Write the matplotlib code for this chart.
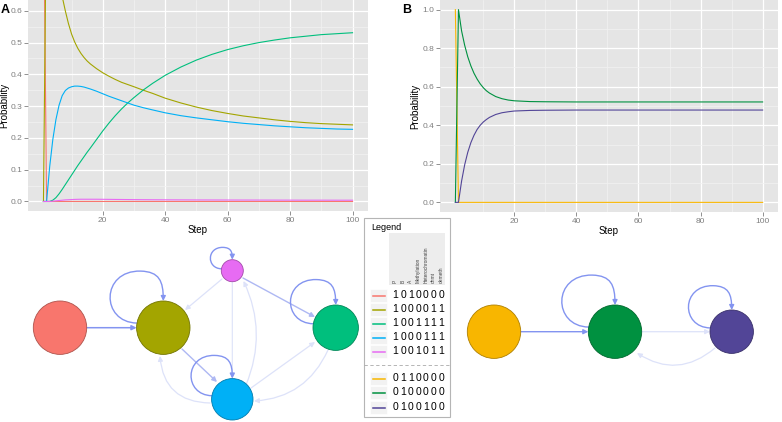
import numpy as np
import matplotlib
matplotlib.use('Agg')
import matplotlib.pyplot as plt
from matplotlib.patches import Circle, FancyArrowPatch, Rectangle
from matplotlib.path import Path
from matplotlib.lines import Line2D
import matplotlib.colors as mcolors

plt.rcParams['font.family'] = ['Liberation Sans', 'DejaVu Sans']

# ---------------- data ----------------
steps_a = [1, 2, 3, 4, 5, 6, 7, 8, 9, 10, 11, 12, 13, 14, 15, 16, 18, 20, 22, 24, 26, 28,
           30, 33, 36, 40, 45, 50, 55, 60, 65, 70, 75, 80, 85, 90, 95, 100]
a_1010000 = [1.0, 0, 0, 0, 0, 0, 0, 0, 0, 0, 0, 0, 0, 0, 0, 0, 0, 0, 0, 0, 0, 0,
             0, 0, 0, 0, 0, 0, 0, 0, 0, 0, 0, 0, 0, 0, 0, 0]
a_1000011 = [0.0, 1.0, 0.91, 0.83, 0.76, 0.70, 0.645, 0.60, 0.56, 0.527, 0.502, 0.482,
             0.466, 0.453, 0.442, 0.433, 0.418, 0.405, 0.394, 0.384, 0.375, 0.368,
             0.361, 0.35, 0.34, 0.325, 0.31, 0.297, 0.286, 0.277, 0.269, 0.263, 0.257,
             0.252, 0.248, 0.245, 0.243, 0.241]
a_1001111 = [0.0, 0.0, 0.0, 0.004, 0.012, 0.024, 0.038, 0.053, 0.068, 0.083, 0.098, 0.113,
             0.127, 0.141, 0.155, 0.168, 0.195, 0.222, 0.247, 0.27, 0.291, 0.31,
             0.327, 0.351, 0.372, 0.397, 0.423, 0.445, 0.463, 0.478, 0.49, 0.5, 0.508,
             0.515, 0.52, 0.525, 0.528, 0.531]
a_1000111 = [0.0, 0.0, 0.11, 0.195, 0.258, 0.303, 0.333, 0.349, 0.357, 0.361, 0.363, 0.363,
             0.362, 0.36, 0.357, 0.354, 0.347, 0.339, 0.331, 0.324, 0.317, 0.31,
             0.303, 0.295, 0.288, 0.279, 0.27, 0.263, 0.257, 0.251, 0.246, 0.242, 0.238,
             0.235, 0.232, 0.23, 0.228, 0.227]
a_1001011 = [0.0, 0.0, 0.0, 0.001, 0.002, 0.003, 0.004, 0.005, 0.0055, 0.006, 0.0065, 0.0068,
             0.007, 0.007, 0.007, 0.007, 0.007, 0.0068, 0.0066, 0.0064, 0.0062, 0.006,
             0.0058, 0.0056, 0.0054, 0.0052, 0.005, 0.0048, 0.0047, 0.0046, 0.0045, 0.0044,
             0.0043, 0.0042, 0.0041, 0.0041, 0.004, 0.004]

steps_b = [1, 2, 3, 4, 5, 6, 7, 8, 9, 10, 11, 12, 14, 16, 18, 20, 25, 30, 40, 50, 60, 70, 80, 90, 100]
b_0110000 = [1.0, 0, 0, 0, 0, 0, 0, 0, 0, 0, 0, 0, 0, 0, 0, 0, 0, 0, 0, 0, 0, 0, 0, 0, 0]
b_0100000 = [0.0, 1.0, 0.89, 0.815, 0.755, 0.708, 0.67, 0.64, 0.615, 0.595, 0.579, 0.567,
             0.549, 0.538, 0.531, 0.527, 0.523, 0.522, 0.521, 0.521, 0.521, 0.521, 0.521,
             0.521, 0.521]
b_0100100 = [0.0, 0.0, 0.11, 0.195, 0.26, 0.31, 0.348, 0.378, 0.4, 0.417, 0.43, 0.441,
             0.456, 0.465, 0.47, 0.474, 0.477, 0.478, 0.479, 0.479, 0.479, 0.479, 0.479,
             0.479, 0.479]

codes_a = ['1010000', '1000011', '1001111', '1000111', '1001011']
codes_b = ['0110000', '0100000', '0100100']
colors_a = ['#F8766D', '#A3A500', '#00BF7D', '#00B0F6', '#E76BF3']
colors_b = ['#F8B600', '#009140', '#524597']
legend_header = ['P', 'B', 'A', 'Methylation', 'Heterochromatin', 'dnmt', 'demeth']

x_major = [20, 40, 60, 80, 100]
x_minor = [10, 30, 50, 70, 90]
a_yticks = [0.0, 0.1, 0.2, 0.3, 0.4, 0.5, 0.6]
a_yminor = [0.05, 0.15, 0.25, 0.35, 0.45, 0.55]
b_yticks = [0.0, 0.2, 0.4, 0.6, 0.8, 1.0]
b_yminor = [0.1, 0.3, 0.5, 0.7, 0.9]

# ---------------- figure ----------------
W, H = 782, 422
fig = plt.figure(figsize=(W / 100, H / 100), dpi=100)


def style_ax(ax, ymaj, ymin, ylabelpad):
    ax.set_facecolor('#E5E5E5')
    for s in ax.spines.values():
        s.set_visible(False)
    ax.set_xticks(x_major)
    ax.set_xticks(x_minor, minor=True)
    ax.set_yticks(ymaj)
    ax.set_yticks(ymin, minor=True)
    ax.set_xticklabels([str(v) for v in x_major])
    ax.set_yticklabels(['%.1f' % v for v in ymaj])
    ax.grid(which='major', color='white', lw=0.9)
    ax.grid(which='minor', color='#F2F2F2', lw=0.5)
    ax.set_axisbelow(True)
    ax.tick_params(which='major', length=3, width=0.6, color='#7F7F7F',
                   labelcolor='#7F7F7F', labelsize=6, pad=1.0)
    ax.tick_params(which='minor', length=0)
    ax.set_xlim(-3.95, 104.95)
    ax.set_xlabel('Step', fontsize=7, labelpad=1)
    ax.set_ylabel('Probability', fontsize=7, labelpad=ylabelpad)


axA = fig.add_axes([28 / W, 1 - 211 / H, 340 / W, 211 / H])
for vals, c in zip([a_1010000, a_1000011, a_1001111, a_1000111, a_1001011], colors_a):
    axA.plot(steps_a, vals, color=c, lw=0.8)
style_ax(axA, a_yticks, a_yminor, 0.8)
axA.set_ylim(-0.03, 0.634)

axB = fig.add_axes([440 / W, 1 - 212 / H, 338 / W, 212 / H])
for vals, c in zip([b_0110000, b_0100000, b_0100100], colors_b):
    axB.plot(steps_b, vals, color=c, lw=0.8)
style_ax(axB, b_yticks, b_yminor, 2)
axB.set_ylim(-0.05, 1.05)

fig.text(1 / W, 1 - 10 / H, 'A', fontsize=9, fontweight='bold', ha='left', va='center')
fig.text(402 / W, 1 - 10 / H, 'B', fontsize=9, fontweight='bold', ha='left', va='center')

# ---------------- overlay in pixel coordinates ----------------
ov = fig.add_axes([0, 0, 1, 1], zorder=-1)
ov.set_xlim(0, W)
ov.set_ylim(H, 0)
ov.axis('off')

STRONG = '#8394F0'
MEDIUM = '#AEB8F3'
FAINT = '#DDE2F9'


def darker(c, f=0.7):
    r, g, b = mcolors.to_rgb(c)
    return (r * f, g * f, b * f)


def node(cx, cy, r, c):
    ov.add_patch(Circle((cx, cy), r, facecolor=c, edgecolor=darker(c), lw=0.6, zorder=3))


def loop(cx, cy, r, color=STRONG, lw=1.0):
    a = np.deg2rad(10)
    pts = [(cx - r * np.cos(a), cy - r * np.sin(a)),
           (cx - 2.35 * r, cy - 0.2 * r),
           (cx - 2.35 * r, cy - 2.15 * r),
           (cx - 0.85 * r, cy - 2.12 * r),
           (cx - 0.15 * r, cy - 2.1 * r),
           (cx, cy - 1.75 * r),
           (cx, cy - r)]
    path = Path(pts, [Path.MOVETO] + [Path.CURVE4] * 6)
    ov.add_patch(FancyArrowPatch(path=path, arrowstyle='-|>', mutation_scale=7,
                                 color=color, lw=lw, zorder=2))


def edge(p, q, color, lw=1.0, rad=0.0):
    ov.add_patch(FancyArrowPatch(p, q, arrowstyle='-|>', mutation_scale=7, color=color,
                                 lw=lw, shrinkA=0, shrinkB=0,
                                 connectionstyle='arc3,rad=%s' % rad, zorder=2))


# network A
nodes_a = {'1010000': (60, 327.7, 26.7), '1000011': (163.3, 327.7, 26.7),
           '1001011': (232.3, 270.7, 11), '1001111': (335.7, 327.7, 22.7),
           '1000111': (232.3, 399.3, 20.7)}
edge((232.3, 282), (232.3, 378), FAINT, 0.8)
edge((222, 279), (185, 310), FAINT, 0.9)
edge((246, 385), (243.5, 281), FAINT, 0.9, rad=0.22)
edge((210, 403), (160, 356), FAINT, 0.9, rad=-0.45)
edge((328, 350), (254, 401), FAINT, 0.9, rad=-0.3)
edge((251, 388), (315, 342), FAINT, 0.9)
edge((243, 278), (315, 317), MEDIUM, 1.0)
edge((182, 349), (217, 382), MEDIUM, 1.0)
edge((86.7, 327.7), (136.6, 327.7), STRONG, 1.1)
for code, c in zip(codes_a, colors_a):
    cx, cy, r = nodes_a[code]
    node(cx, cy, r, c)
    if code != '1010000':
        loop(cx, cy, r)

# network B
nodes_b = {'0110000': (494, 331.7, 26.7), '0100000': (615, 331.7, 26.7),
           '0100100': (731.7, 331.7, 21.7)}
edge((520.7, 331.7), (588.3, 331.7), STRONG, 1.0)
edge((641.7, 331.7), (710, 331.7), FAINT, 0.9)
edge((715, 348), (637, 353), FAINT, 0.9, rad=-0.37)
for code, c in zip(codes_b, colors_b):
    cx, cy, r = nodes_b[code]
    node(cx, cy, r, c)
    if code != '0110000':
        loop(cx, cy, r)

# legend box
ov.add_patch(Rectangle((364, 218), 86, 199, facecolor='white', edgecolor='#B5B5B5', lw=0.8, zorder=1))
ov.text(371, 228, 'Legend', fontsize=6.5, ha='left', va='center', zorder=4)
ov.add_patch(Rectangle((389, 233), 56, 52, facecolor='#EDEDED', edgecolor='none', zorder=2))
col_x0, col_dx = 395.5, 7.6
for i, lab in enumerate(legend_header):
    ov.text(col_x0 + col_dx * i, 283, lab, fontsize=3.5, rotation=90, ha='center', va='bottom',
            color='#444444', zorder=4)

rows_a = [295, 309, 323, 337, 351]
rows_b = [378, 392, 407]
for codes, cols, rows in [(codes_a, colors_a, rows_a), (codes_b, colors_b, rows_b)]:
    for code, c, y in zip(codes, cols, rows):
        ov.add_patch(Rectangle((370, y - 6.5), 17, 13, facecolor='#F2F2F2', edgecolor='white',
                               lw=0.5, zorder=2))
        ov.add_line(Line2D([372.5, 384.5], [y + 0.5, y + 0.5], color=c, lw=1.1, zorder=3))
        for i, ch in enumerate(code):
            ov.text(col_x0 + col_dx * i, y, ch, fontsize=7.5, ha='center', va='center', zorder=4)
ov.add_line(Line2D([364, 450], [364.5, 364.5], color='#AAAAAA', lw=0.6, ls=(0, (4, 3)), zorder=3))

fig.savefig('out.png', dpi=100)
